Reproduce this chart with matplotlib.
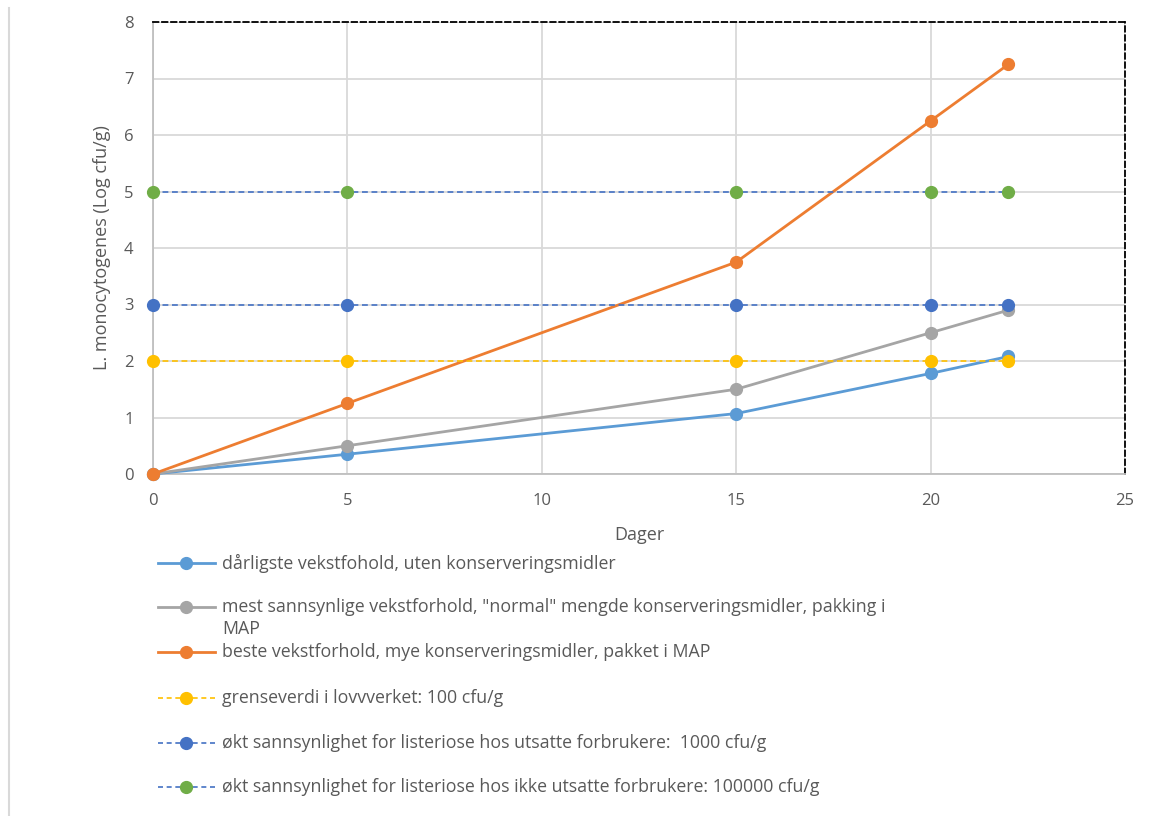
import numpy as np
import matplotlib
matplotlib.use('Agg')
import matplotlib.pyplot as plt
from matplotlib.lines import Line2D

plt.rcParams['font.family'] = ['Open Sans', 'DejaVu Sans']

# data
dager = [0, 5, 15, 20, 22]
darligste = [0, 0.35, 1.07, 1.78, 2.08]
mest_sannsynlige = [0, 0.5, 1.5, 2.5, 2.9]
beste = [0, 1.25, 3.75, 6.25, 7.25]
grense_100 = [2, 2, 2, 2, 2]
utsatte_1000 = [3, 3, 3, 3, 3]
ikke_utsatte_100000 = [5, 5, 5, 5, 5]

labels = [
    'dårligste vekstfohold, uten konserveringsmidler',
    'mest sannsynlige vekstforhold, "normal" mengde konserveringsmidler, pakking i\nMAP',
    'beste vekstforhold, mye konserveringsmidler, pakket i MAP',
    'grenseverdi i lovvverket: 100 cfu/g',
    'økt sannsynlighet for listeriose hos utsatte forbrukere:  1000 cfu/g',
    'økt sannsynlighet for listeriose hos ikke utsatte forbrukere: 100000 cfu/g',
]

# (series, line color, marker color, linestyle, linewidth)
series = [
    (darligste, '#5B9BD5', '#5B9BD5', '-', 2.0),
    (mest_sannsynlige, '#A5A5A5', '#A5A5A5', '-', 2.0),
    (beste, '#ED7D31', '#ED7D31', '-', 2.0),
    (grense_100, '#FFC000', '#FFC000', '--', 1.2),
    (utsatte_1000, '#4472C4', '#4472C4', '--', 1.2),
    (ikke_utsatte_100000, '#4472C4', '#70AD47', '--', 1.2),
]

W, H = 1153, 816
fig = plt.figure(figsize=(W / 100, H / 100), dpi=100)
ax = fig.add_axes([153 / W, 1 - 474 / H, (1125 - 153) / W, (474 - 22) / H])

txt_col = '#595959'
for vals, lc, mc, ls, lw in series:
    ax.plot(dager, vals, color=lc, linestyle=ls, linewidth=lw,
            marker='o', markersize=8.5, markerfacecolor=mc, markeredgecolor=mc,
            dashes=(3.5, 2.2) if ls == '--' else (None, None), zorder=3, clip_on=False)

ax.set_xlim(0, 25)
ax.set_ylim(0, 8)
ax.set_xticks(np.arange(0, 26, 5))
ax.set_yticks(np.arange(0, 9, 1))
ax.grid(True, color='#D9D9D9', linewidth=1.3, zorder=0)
ax.set_axisbelow(True)
ax.tick_params(length=0, labelsize=12, colors=txt_col, pad=14)
for s in ['left', 'bottom']:
    ax.spines[s].set_color('#BFBFBF')
    ax.spines[s].set_linewidth(1.3)
for s in ['top', 'right']:
    ax.spines[s].set_color('black')
    ax.spines[s].set_linewidth(1.3)
    ax.spines[s].set_linestyle((0, (3, 2)))

ax.set_xlabel('Dager', fontsize=13, color=txt_col, labelpad=12)
ax.set_ylabel('L. monocytogenes (Log cfu/g)', fontsize=13, color=txt_col, labelpad=9)

# legend below the plot, drawn by hand so the wrapped label keeps its key on the first line
key_rows = [563, 607, 652, 698, 743, 787]
for (vals, lc, mc, ls, lw), lab, yp in zip(series, labels, key_rows):
    yf = 1 - yp / H
    fig.add_artist(Line2D([158 / W, 215 / W], [yf, yf], color=lc, linestyle=ls,
                          linewidth=lw, transform=fig.transFigure,
                          dashes=(3, 2.2) if ls == '--' else (None, None)))
    fig.add_artist(Line2D([186.5 / W], [yf], marker='o', markersize=8.5,
                          markerfacecolor=mc, markeredgecolor=mc, linestyle='none',
                          transform=fig.transFigure))
    if '\n' in lab:
        fig.text(222 / W, yf + 9 / H, lab, fontsize=12.8, color=txt_col, va='top',
                 linespacing=1.3, transform=fig.transFigure)
    else:
        fig.text(222 / W, yf, lab, fontsize=12.8, color=txt_col, va='center',
                 transform=fig.transFigure)

# frame line at the left edge of the screenshot
fig.add_artist(Line2D([9 / W, 9 / W], [0, 1 - 8 / H], color='#D9D9D9', linewidth=1.5,
                      transform=fig.transFigure))

fig.savefig('out.png', dpi=100)
